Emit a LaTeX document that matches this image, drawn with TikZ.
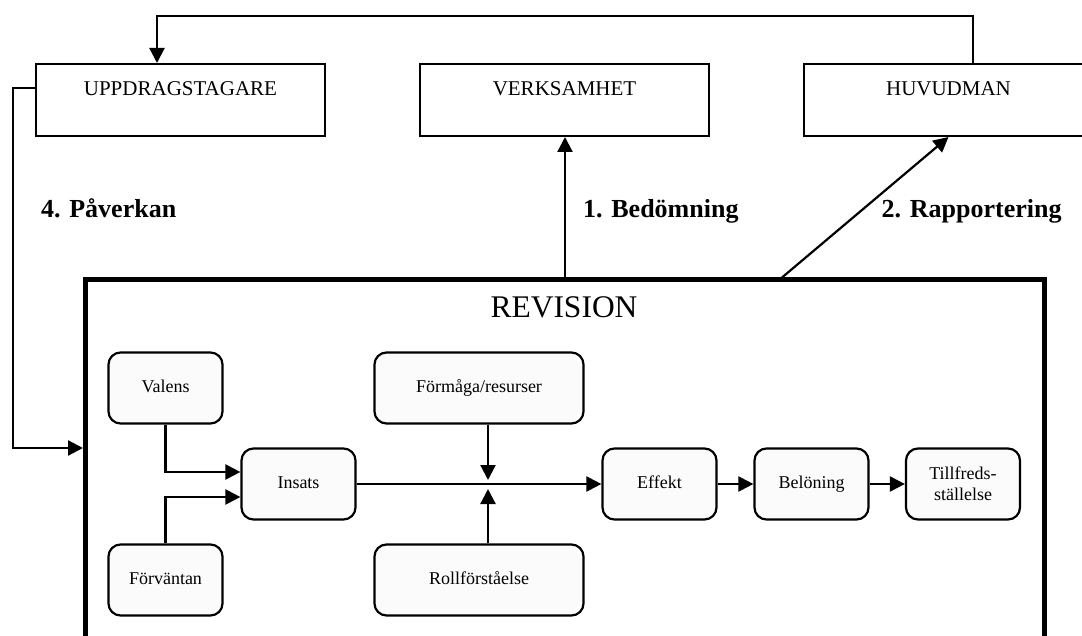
\documentclass[tikz,border=0pt]{standalone}
\usepackage{fontspec}
\setmainfont{Liberation Serif}
\usetikzlibrary{arrows.meta,calc}
\begin{document}
\begin{tikzpicture}[x=1pt,y=-1pt,
  topbox/.style={draw, line width=2pt, minimum width=289pt, inner xsep=0pt, inner ysep=0pt,
    text height=32pt, text depth=40pt, font=\fontsize{21}{25}\selectfont},
  rbox/.style={draw, line width=2.2pt, rounded corners=12pt, fill=black!1.5, minimum width=114pt,
    minimum height=71pt, align=center, inner sep=2pt, font=\fontsize{18}{21}\selectfont},
  onel/.style={text height=12.5pt, text depth=4pt},
  wbox/.style={rbox, minimum width=209pt},
  conn/.style={line width=2.2pt},
  arr/.style={conn, -{Triangle[length=15pt,width=15pt]}},
  lbl/.style={anchor=base west, inner sep=0pt, font=\fontsize{26}{30}\selectfont\bfseries},
  revbox/.style={draw, line width=5pt, inner sep=0pt}
]
\useasboundingbox (0,0) rectangle (1082,636);
\clip (0,0) rectangle (1082,636);

% top boxes
\node[topbox] (upp) at (180.5,100) {UPPDRAGSTAGARE};
\node[topbox] (verk) at (564.5,100) {VERKSAMHET};
\node[topbox] (huv) at (948.5,100) {HUVUDMAN};

% revision frame
\node[revbox, minimum width=959pt, minimum height=400pt, anchor=north west] (rev) at (83,277.5) {};
\node[anchor=base, inner sep=0pt, font=\fontsize{31.5}{36}\selectfont] (revt) at (564,318) {REVISION};

% labels
\node[lbl] (l4) at (41,218) {4. Påverkan};
\node[lbl] (l1) at (583,218) {1. Bedömning};
\node[lbl] (l2) at (881.5,218) {2. Rapportering};

% inner boxes
\node[rbox, onel] (val) at (165.5,388) {Valens};
\node[rbox, onel] (forv) at (165.5,580) {Förväntan};
\node[rbox, onel] (ins) at (298.5,484) {Insats};
\node[wbox, onel] (form) at (479,388) {Förmåga/resurser};
\node[wbox, onel] (roll) at (479,580) {Rollförståelse};
\node[rbox, onel] (eff) at (659.5,484) {Effekt};
\node[rbox, onel] (bel) at (811.5,484) {Belöning};
\node[rbox] (till) at (963,484) {Tillfreds-\\ställelse};

% coordinates
\coordinate (hvtop) at ($(huv.north)+(24.5,0)$);
\coordinate (upptop) at ($(upp.north)+(-23.5,0)$);
\coordinate (topy) at (0,16);
\coordinate (uppw) at ($(upp.west)+(0,-12)$);
\coordinate (leftx) at (13,0);
\coordinate (revin) at ($(rev.north west)+(0,170.5)$);
\coordinate (rapstart) at ($(rev.north)+(217,0)$);
\coordinate (cross) at (488,484);

% top feedback connector
\draw[arr] (hvtop) -- (hvtop |- topy) -- (upptop |- topy) -- (upptop);
% left connector
\draw[arr] (uppw) -- (uppw -| leftx) -- (leftx |- revin) -- (revin);
% 1. Bedömning
\draw[arr] (rev.north) -- (rev.north |- verk.south);
% 2. Rapportering
\draw[arr] (rapstart) -- (huv.south);

% inner connectors
\draw[arr] (val.south) |- ($(ins.west)+(0,-12)$);
\draw[arr] (forv.north) |- ($(ins.west)+(0,13)$);
\draw[arr] (ins.east) -- (eff.west);
\draw[arr] (cross |- form.south) -- ($(cross)+(0,-4)$);
\draw[arr] (cross |- roll.north) -- ($(cross)+(0,5)$);
\draw[arr] (eff.east) -- (bel.west);
\draw[arr] (bel.east) -- (till.west);
\end{tikzpicture}
\end{document}
